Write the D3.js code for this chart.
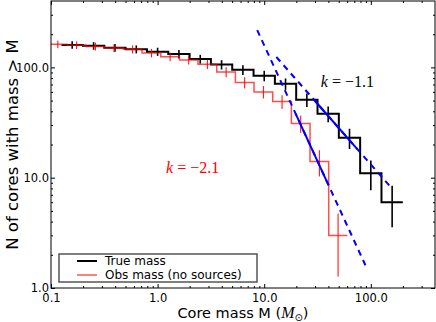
<!DOCTYPE html>
<html>
<head>
<meta charset="utf-8">
<script src="https://cdn.jsdelivr.net/npm/d3@7"></script>
<style>
  body { margin: 0; background: #fff; }
  text { font-family: "DejaVu Sans", sans-serif; }
</style>
</head>
<body>
<div id="chart"></div>
<script>
// cumulative core counts N(>M), bin centres in solar masses
const massTrue = [0.158, 0.251, 0.398, 0.631, 1.0, 1.585, 2.512, 3.981, 6.31, 10.0, 15.85, 25.12, 39.81, 63.1, 100.0, 158.5]
const countTrue = [160, 157, 151, 146, 139, 132, 119, 106, 95, 84, 71, 51, 38, 23, 11, 6]
const massObs = [0.116, 0.174, 0.261, 0.390, 0.583, 0.875, 1.31, 1.96, 2.93, 4.39, 6.56, 9.82, 14.7, 22.0, 32.9, 49.3]
const countObs = [162, 159, 155, 150, 146, 135, 125, 117, 107, 91, 73, 60, 49, 31, 14, 3]
const binDexTrue = 0.2
const binDexObs = 0.175

// power-law fits N = A * M^k
const fits = [
  { k: -1.1, logA: 3.32, dashed: [13, 155], solid: [30, 75] },
  { k: -2.1, logA: 4.30, dashed: [8.6, 89], solid: [19.7, 40] }
]
const labels = [
  { text: '−1.1', m: 34, n: 66, color: '#000' },
  { text: '−2.1', m: 1.2, n: 11, color: '#ff0000' }
]
const xTicks = [0.1, 1, 10, 100]
const yTicks = [1, 10, 100]

const W = 436
const H = 322
const margin = { left: 51, right: 1, top: 1, bottom: 34 }
const iw = W - margin.left - margin.right
const ih = H - margin.top - margin.bottom

const x = d3.scaleLog().domain([0.1, 400]).range([0, iw])
const y = d3.scaleLog().domain([1, 400]).range([ih, 0])

const svg = d3.select('#chart').append('svg')
  .attr('width', W)
  .attr('height', H)

svg.append('defs').append('clipPath').attr('id', 'clip')
  .append('rect').attr('width', iw).attr('height', ih)

const g = svg.append('g').attr('transform', `translate(${margin.left},${margin.top})`)
const plot = g.append('g').attr('clip-path', 'url(#clip)')

function minors (lo, hi) {
  let out = []
  for (let e = -1; e <= 2; e++) {
    for (let m = 2; m <= 9; m++) {
      let v = m * Math.pow(10, e)
      if (v > lo && v < hi) out.push(v)
    }
  }
  return out
}

function stepPoints (centers, counts, dex) {
  let pts = []
  centers.forEach(function (c, i) {
    pts.push([c / Math.pow(10, dex / 2), counts[i]])
    pts.push([c * Math.pow(10, dex / 2), counts[i]])
  })
  return pts
}

let line = d3.line().x(d => x(d[0])).y(d => y(d[1]))

function drawSeries (centers, counts, dex, color, lw, elw, op) {
  plot.append('path')
    .datum(stepPoints(centers, counts, dex))
    .attr('d', line)
    .attr('fill', 'none')
    .attr('stroke', color)
    .attr('stroke-opacity', op)
    .attr('stroke-width', lw)
  plot.selectAll(null)
    .data(centers.map((c, i) => [c, counts[i]]))
    .enter().append('line')
    .attr('x1', d => x(d[0]))
    .attr('x2', d => x(d[0]))
    .attr('y1', d => y(d[1] + Math.sqrt(d[1])))
    .attr('y2', d => y(Math.max(d[1] - Math.sqrt(d[1]), 1e-3)))
    .attr('stroke', color)
    .attr('stroke-width', elw)
}

drawSeries(massTrue, countTrue, binDexTrue, '#000', 2, 1.6, 1)
drawSeries(massObs, countObs, binDexObs, '#ff0000', 1.5, 1, 0.7)

fits.forEach(function (f) {
  let fn = m => Math.pow(10, f.logA) * Math.pow(m, f.k)
  plot.append('path')
    .datum(f.dashed.map(m => [m, fn(m)]))
    .attr('d', line)
    .attr('stroke', '#0000ff')
    .attr('stroke-width', 2)
    .attr('stroke-dasharray', '6,5')
  plot.append('path')
    .datum(f.solid.map(m => [m, fn(m)]))
    .attr('d', line)
    .attr('stroke', '#0000ff')
    .attr('stroke-width', 2)
})

labels.forEach(function (l) {
  let t = g.append('text')
    .attr('x', x(l.m))
    .attr('y', y(l.n))
    .attr('fill', l.color)
    .style('font-family', '"Liberation Serif", serif')
    .style('font-size', '16px')
  t.append('tspan').style('font-style', 'italic').text('k')
  t.append('tspan').text(' = ' + l.text)
})

// axes: major + minor ticks pointing inward on all four sides
let fmt = d3.format('.1f')
function styleAxis (sel) {
  sel.select('.domain').remove()
  sel.selectAll('line').attr('stroke', '#000')
  sel.selectAll('text').style('font-size', '11.5px').attr('fill', '#000')
}

g.append('g').attr('transform', `translate(0,${ih})`)
  .call(d3.axisBottom(x).tickValues(xTicks).tickFormat(fmt).tickSize(-4).tickPadding(6))
  .call(styleAxis)
g.append('g').attr('transform', `translate(0,${ih})`)
  .call(d3.axisBottom(x).tickValues(minors(0.1, 400)).tickFormat('').tickSize(-2))
  .call(styleAxis)
g.append('g')
  .call(d3.axisTop(x).tickValues(xTicks).tickFormat('').tickSize(-4))
  .call(styleAxis)
g.append('g')
  .call(d3.axisTop(x).tickValues(minors(0.1, 400)).tickFormat('').tickSize(-2))
  .call(styleAxis)

g.append('g')
  .call(d3.axisLeft(y).tickValues(yTicks).tickFormat(fmt).tickSize(-4).tickPadding(2))
  .call(styleAxis)
g.append('g')
  .call(d3.axisLeft(y).tickValues(minors(1, 400)).tickFormat('').tickSize(-2))
  .call(styleAxis)
g.append('g').attr('transform', `translate(${iw},0)`)
  .call(d3.axisRight(y).tickValues(yTicks).tickFormat('').tickSize(-4))
  .call(styleAxis)
g.append('g').attr('transform', `translate(${iw},0)`)
  .call(d3.axisRight(y).tickValues(minors(1, 400)).tickFormat('').tickSize(-2))
  .call(styleAxis)

g.append('rect')
  .attr('width', iw)
  .attr('height', ih)
  .attr('fill', 'none')
  .attr('stroke', '#000')
  .attr('stroke-width', 1)

// axis titles
let xl = svg.append('text')
  .attr('x', margin.left + iw / 2)
  .attr('y', 318)
  .attr('text-anchor', 'middle')
  .style('font-size', '14.5px')
xl.append('tspan').text('Core mass M (')
xl.append('tspan').style('font-family', '"Liberation Serif", serif').style('font-style', 'italic').style('font-size', '16px').text('M')
xl.append('tspan').attr('dy', 3).style('font-size', '10px').text('⊙')
xl.append('tspan').attr('dy', -3).text(')')

svg.append('text')
  .attr('transform', `translate(18,${margin.top + ih / 2}) rotate(-90)`)
  .attr('text-anchor', 'middle')
  .style('font-size', '16.5px')
  .text('N of cores with mass > M')

// legend
let leg = g.append('g').attr('transform', 'translate(8,253)')
leg.append('rect')
  .attr('width', 198)
  .attr('height', 28)
  .attr('fill', '#fff')
  .attr('stroke', '#555')
  .attr('stroke-width', 1.5)
let items = [
  { name: 'True mass', color: '#000', lw: 2 },
  { name: 'Obs mass (no sources)', color: '#ff0000', lw: 1 }
]
items.forEach(function (it, i) {
  let yy = 7 + i * 14
  leg.append('line')
    .attr('x1', 18).attr('x2', 38)
    .attr('y1', yy).attr('y2', yy)
    .attr('stroke', it.color)
    .attr('stroke-width', it.lw)
  leg.append('text')
    .attr('x', 46)
    .attr('y', yy + 4)
    .style('font-size', '12px')
    .text(it.name)
})
</script>
</body>
</html>
